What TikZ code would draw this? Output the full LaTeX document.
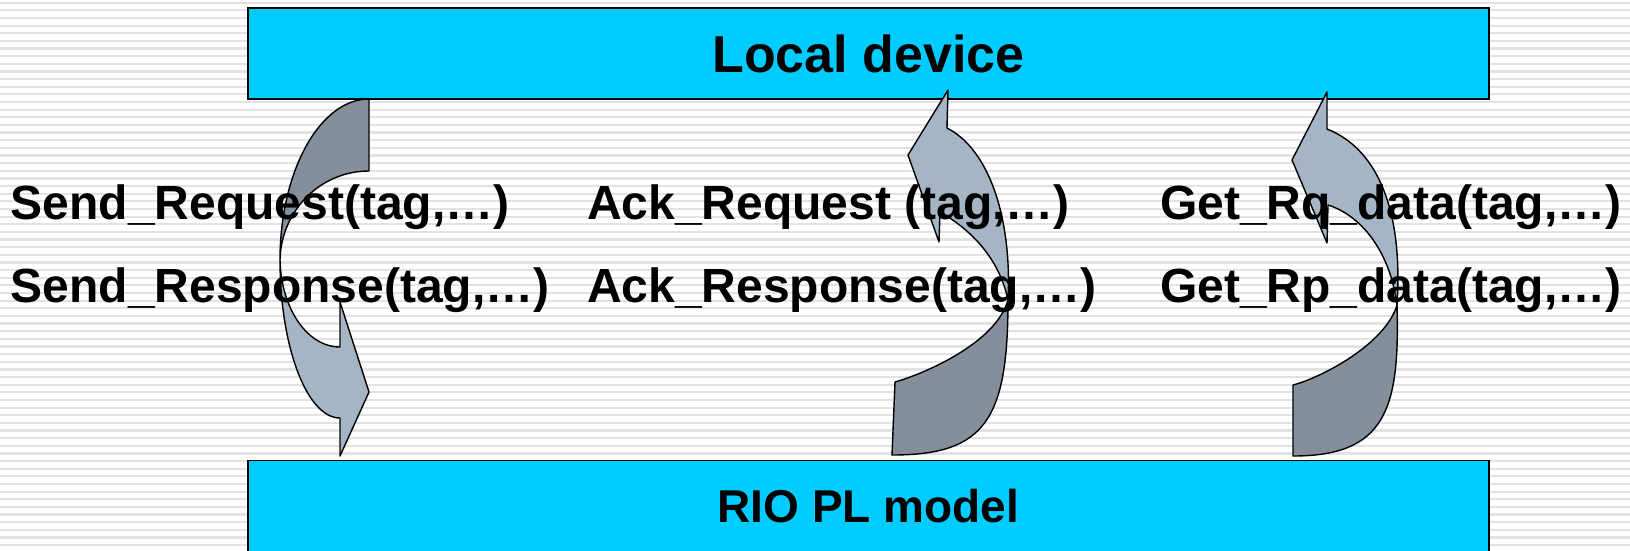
\documentclass[tikz,border=0pt]{standalone}
\usepackage{fontspec}
\setmainfont{Liberation Sans}
\usepackage{tikz}
\definecolor{boxcyan}{RGB}{0,204,255}
\definecolor{arrdark}{RGB}{132,143,155}
\definecolor{arrlight}{RGB}{166,181,197}
\definecolor{stripegray}{RGB}{226,226,226}
\tikzset{
  devbox/.style={rectangle, draw=black, fill=boxcyan, line width=1.5pt,
    minimum width=1241pt, minimum height=91pt, inner sep=0pt,
    font=\fontsize{52}{60}\selectfont\bfseries},
  callnode/.style={anchor=base west, inner sep=0pt,
    font=\fontsize{48}{56}\selectfont\bfseries},
  backface/.style={fill=arrdark, draw=black, line width=1.4pt, line join=round},
  frontface/.style={fill=arrlight, draw=black, line width=1.4pt, line join=round},
  stripeline/.style={color=stripegray, line width=2.2pt}
}

\begin{document}
\begin{tikzpicture}[x=1pt, y=-1pt]
  \useasboundingbox (0,0) rectangle (1630,550);
  % striped background
  \fill[white] (0,0) rectangle (1630,550);
  \foreach \k in {0,...,71}
    \draw[stripeline] (0,2.7+7.64*\k) -- (1630,2.7+7.64*\k);
  % the two layers
  \node[devbox] (local) at (868.5,53.5) {Local device};
  \node[devbox, font=\fontsize{46}{54}\selectfont\bfseries] (rio) at (868.5,506) {RIO PL model};
  % curved arrow, down (send)
  \draw[backface] (369,99) .. controls (320,99) and (280,171) .. (280,260)
    .. controls (281,211) and (320,171) .. (369,171) -- cycle;
  \draw[frontface] (280,260) .. controls (281,308) and (307,347) .. (340,347)
    -- (340,302) -- (369,392) -- (340,456) -- (340,418)
    .. controls (307,418) and (280,347) .. (280,260) -- cycle;
  % curved arrow, up (ack)
  \draw[backface] (1008,300) .. controls (1008,420) and (985,455) .. (892,455)
    -- (895,382) .. controls (920,375) and (995,345) .. (1008,300) -- cycle;
  \draw[frontface] (940,212) .. controls (975,232) and (1000,262) .. (1008,300)
    .. controls (1012,220) and (990,150) .. (947,128)
    -- (948,90) -- (908,155) -- (939,242) -- cycle;
  % curved arrow, up (get)
  \draw[backface] (1397,305) .. controls (1400,410) and (1385,456) .. (1293,456)
    -- (1293,385) .. controls (1320,378) and (1385,345) .. (1397,305) -- cycle;
  \draw[frontface] (1328,205) .. controls (1360,215) and (1390,250) .. (1397,305)
    .. controls (1403,215) and (1380,150) .. (1327,129)
    -- (1327,92) -- (1292,160) -- (1327,243) -- cycle;
  % calls
  \node[callnode] (sendrq) at (10.5,219) {Send\_Request(tag,…)};
  \node[callnode] (sendrp) at (10.5,302) {Send\_Response(tag,…)};
  \node[callnode] (ackrq) at (587,219) {Ack\_Request (tag,…)};
  \node[callnode] (ackrp) at (587,302) {Ack\_Response(tag,…)};
  \node[callnode] (getrq) at (1160,219) {Get\_Rq\_data(tag,…)};
  \node[callnode] (getrp) at (1160,302) {Get\_Rp\_data(tag,…)};
\end{tikzpicture}
\end{document}
